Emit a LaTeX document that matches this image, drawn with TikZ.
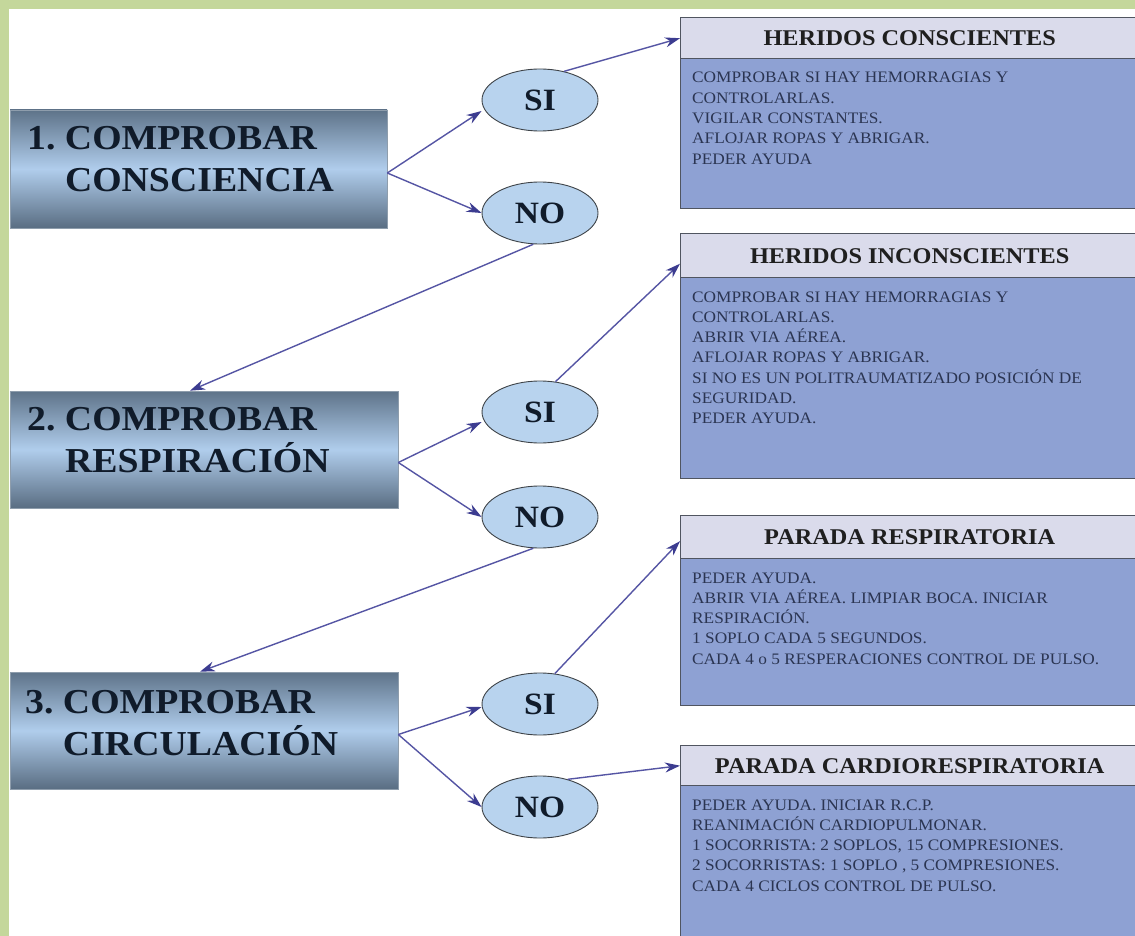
\documentclass[tikz,border=0pt]{standalone}
\usepackage{fontspec}
\setmainfont{Liberation Serif}[FakeStretch=1.08]
\usetikzlibrary{arrows.meta,shapes.geometric}

\definecolor{frame}{HTML}{C4D79B}
\definecolor{stepdark}{HTML}{5E7389}
\definecolor{steplight}{HTML}{B0CDEC}
\definecolor{steptxt}{HTML}{101B2A}
\definecolor{ovalfill}{HTML}{B8D3EE}
\definecolor{ovaledge}{HTML}{3E4348}
\definecolor{headfill}{HTML}{DADBEB}
\definecolor{bodyfill}{HTML}{8EA1D3}
\definecolor{boxedge}{HTML}{505560}
\definecolor{bodytxt}{HTML}{2B3552}
\definecolor{link}{HTML}{5555A4}
\definecolor{linkhead}{HTML}{3C3C90}

% lines of text set on a fixed baseline grid; the vtop's baseline is the first line's
\newcommand\gridlines[2]{\vtop{\baselineskip=#1\lineskiplimit=-\maxdimen\lineskip=0pt
  \halign{##\hfil&&##\hfil\cr#2\crcr}}}

\tikzset{
  stepbox/.style={rectangle, inner sep=0pt, draw=stepdark!70, line width=0.6pt,
    top color=stepdark, bottom color=stepdark!95!black, middle color=steplight},
  steplabel/.style={inner sep=0pt, anchor=base west, text=steptxt,
    font=\bfseries\fontsize{35}{42}\selectfont},
  answer/.style={ellipse, inner sep=0pt, minimum width=116pt, minimum height=62pt,
    fill=ovalfill, draw=ovaledge, line width=0.9pt, text=steptxt,
    font=\bfseries\fontsize{31}{36}\selectfont},
  headbox/.style={rectangle, inner sep=0pt, anchor=north west, minimum width=458pt,
    fill=headfill, draw=boxedge, line width=1.4pt, text=black!88,
    font=\bfseries\fontsize{22.5}{26}\selectfont},
  bodybox/.style={rectangle, inner sep=0pt, anchor=north west, minimum width=458pt,
    fill=bodyfill, draw=boxedge, line width=1.4pt},
  bodytext/.style={inner sep=0pt, anchor=base west, text=bodytxt,
    font=\fontsize{16}{20.3}\selectfont},
  flow/.style={draw=link, line width=1.4pt,
    -{Stealth[length=15pt,width=10pt,color=linkhead]}}
}

\begin{document}
\begin{tikzpicture}[x=1pt,y=-1pt]
\useasboundingbox (0,0) rectangle (1135,936);
\clip (0,0) rectangle (1135,936);
\fill[white] (0,0) rectangle (1135,936);
% green frame along the top and the left side
\fill[frame] (0,0) rectangle (1135,9);
\fill[frame] (0,0) rectangle (9,936);

% ---- left column: the three checks ----
\node[stepbox, minimum width=377pt, minimum height=118pt] (b1) at (198.5,169) {};
\node[stepbox, minimum width=388pt, minimum height=117pt] (b2) at (204,449.5) {};
\node[stepbox, minimum width=388pt, minimum height=117pt] (b3) at (204,730.5) {};
\node[steplabel] (b1t) at (27,150) {\gridlines{42pt}{1.\ & COMPROBAR\cr & CONSCIENCIA}};
\node[steplabel] (b2t) at (27,430) {\gridlines{42pt}{2.\ & COMPROBAR\cr & RESPIRACIÓN}};
\node[steplabel] (b3t) at (25,713) {\gridlines{42pt}{3.\ & COMPROBAR\cr & CIRCULACIÓN}};

% ---- middle column: answers ----
\node[answer] (si1) at (540,100) {SI};
\node[answer] (no1) at (540,213) {NO};
\node[answer] (si2) at (540,412) {SI};
\node[answer] (no2) at (540,517) {NO};
\node[answer] (si3) at (540,704) {SI};
\node[answer] (no3) at (540,807) {NO};

% ---- right column: what to do ----
\node[bodybox, minimum height=150pt] (r1) at (680,58) {};
\node[headbox, minimum height=41pt] (h1) at (680,17) {HERIDOS CONSCIENTES};
\node[bodytext] (t1) at (692,83) {\gridlines{20.3pt}{%
  COMPROBAR SI HAY HEMORRAGIAS Y\cr CONTROLARLAS.\cr VIGILAR CONSTANTES.\cr
  AFLOJAR ROPAS Y ABRIGAR.\cr PEDER AYUDA}};

\node[bodybox, minimum height=201pt] (r2) at (680,277) {};
\node[headbox, minimum height=44pt] (h2) at (680,233) {HERIDOS INCONSCIENTES};
\node[bodytext] (t2) at (692,302) {\gridlines{20.3pt}{%
  COMPROBAR SI HAY HEMORRAGIAS Y\cr CONTROLARLAS.\cr ABRIR VIA AÉREA.\cr
  AFLOJAR ROPAS Y ABRIGAR.\cr SI NO ES UN POLITRAUMATIZADO POSICIÓN DE\cr
  SEGURIDAD.\cr PEDER AYUDA.}};

\node[bodybox, minimum height=147pt] (r3) at (680,558) {};
\node[headbox, minimum height=43pt] (h3) at (680,515) {PARADA RESPIRATORIA};
\node[bodytext] (t3) at (692,583) {\gridlines{20.3pt}{%
  PEDER AYUDA.\cr ABRIR VIA AÉREA. LIMPIAR BOCA. INICIAR\cr RESPIRACIÓN.\cr
  1 SOPLO CADA 5 SEGUNDOS.\cr CADA 4 o 5 RESPERACIONES CONTROL DE PULSO.}};

\node[bodybox, minimum height=170pt] (r4) at (680,785) {};
\node[headbox, minimum height=40pt] (h4) at (680,745) {PARADA CARDIORESPIRATORIA};
\node[bodytext] (t4) at (692,810) {\gridlines{20.3pt}{%
  PEDER AYUDA. INICIAR R.C.P.\cr REANIMACIÓN CARDIOPULMONAR.\cr
  1 SOCORRISTA: 2 SOPLOS, 15 COMPRESIONES.\cr
  2 SOCORRISTAS: 1 SOPLO , 5 COMPRESIONES.\cr CADA 4 CICLOS CONTROL DE PULSO.}};

% ---- connectors ----
\coordinate (o1) at ([yshift=-4pt]b1.east);
\coordinate (o2) at ([yshift=-13pt]b2.east);
\coordinate (o3) at ([yshift=-4pt]b3.east);

\draw[flow] (o1) -- ([yshift=-11pt]si1.west);
\draw[flow] (o1) -- (no1.west);
\draw[flow] (si1.50) -- (h1.west);
\draw[flow] (no1.258) -- ([xshift=-14pt]b2.north);

\draw[flow] (o2) -- ([yshift=-10pt]si2.west);
\draw[flow] (o2) -- (no2.west);
\draw[flow] (si2.63) -- ([yshift=-8pt]h2.west);
\draw[flow] (no2.258) -- ([xshift=-4pt]b3.north);

\draw[flow] (o3) -- ([yshift=-3pt]si3.west);
\draw[flow] (o3) -- (no3.west);
\draw[flow] (si3.64) -- ([yshift=-4pt]h3.west);
\draw[flow] (no3.45) -- (h4.west);
\end{tikzpicture}
\end{document}
